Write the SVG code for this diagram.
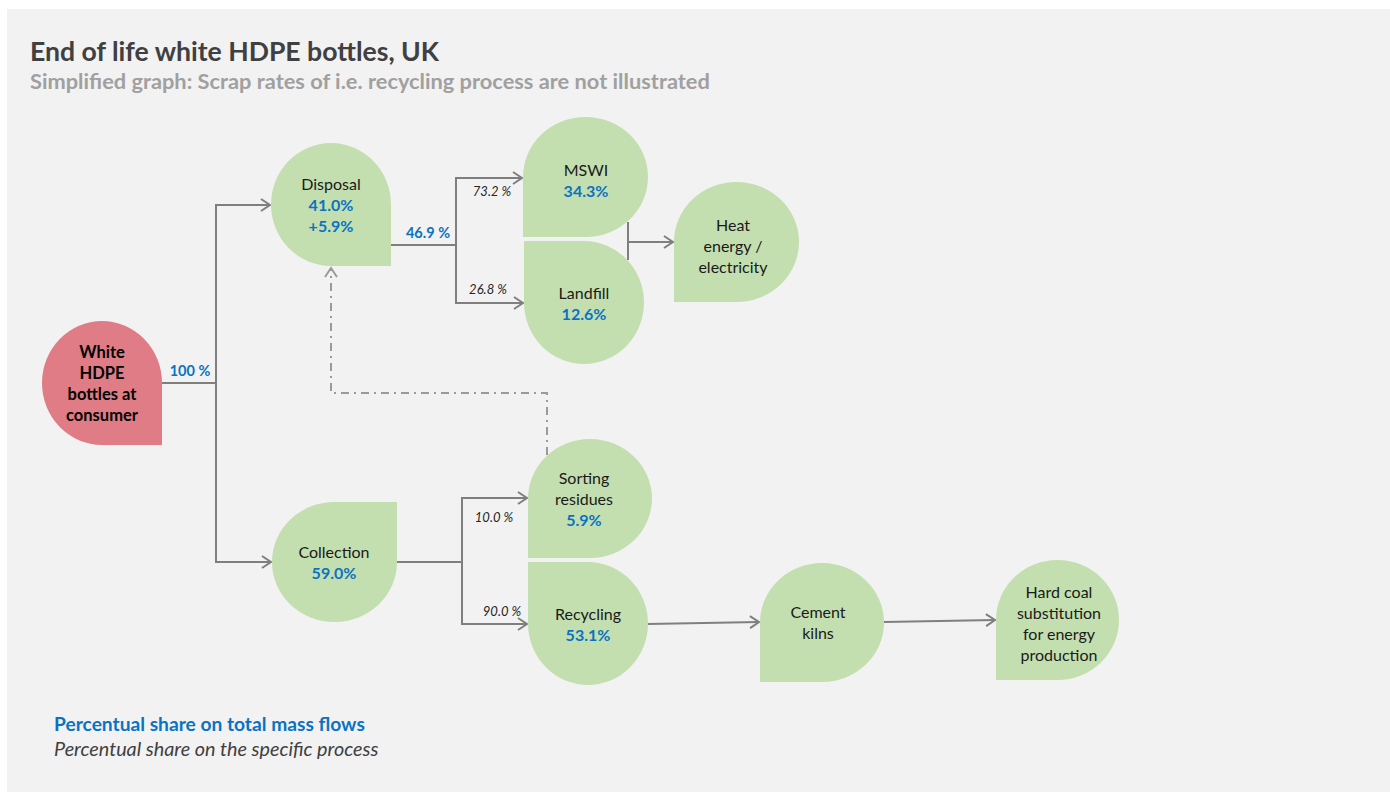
<svg xmlns="http://www.w3.org/2000/svg" width="1390" height="792" viewBox="0 0 1390 792">
<defs>
<style>
.bg{fill:#f2f2f2}
.g{fill:#c3dfaf}
.r{fill:#e07c86}
.t{font-family:Lato,"Open Sans",sans-serif;font-size:16px;fill:#1a1a1a;text-anchor:middle}
.tb{font-weight:bold;fill:#000;font-size:16.5px}
.v{font-family:Lato,"Open Sans",sans-serif;font-size:16px;font-weight:bold;fill:#0a72c4;text-anchor:middle}
.lb{font-family:Lato,"Open Sans",sans-serif;font-size:14.5px;font-weight:bold;fill:#0a72c4;text-anchor:middle}
.li{font-family:Lato,"Open Sans",sans-serif;font-size:13px;font-style:italic;fill:#262626;text-anchor:middle}
.c{fill:none;stroke:#7f7f7f;stroke-width:2}
.d{fill:none;stroke:#9a9a9a;stroke-width:2;stroke-dasharray:8 5 2 5}
</style>
<marker id="a" markerUnits="userSpaceOnUse" markerWidth="12" markerHeight="14" refX="10" refY="7" orient="auto">
<path d="M1,1 L10,7 L1,13" fill="none" stroke="#7f7f7f" stroke-width="2"/>
</marker>
<marker id="ad" markerUnits="userSpaceOnUse" markerWidth="12" markerHeight="14" refX="10" refY="7" orient="auto">
<path d="M1,1 L10,7 L1,13" fill="none" stroke="#9a9a9a" stroke-width="2"/>
</marker>
</defs>
<rect class="bg" x="7" y="9" width="1383" height="783"/>
<g id="title">
<text x="30" y="61" font-family="Lato,'Open Sans',sans-serif" font-size="26.6" font-weight="bold" fill="#404040">End of life white HDPE bottles, UK</text>
<text x="30" y="89" font-family="Lato,'Open Sans',sans-serif" font-size="21.8" font-weight="bold" fill="#a0a0a0">Simplified graph: Scrap rates of i.e. recycling process are not illustrated</text>
</g>
<g id="connectors">
<polyline class="c" points="162,383 216,383"/>
<polyline class="c" points="216,562 216,205 270,205" marker-end="url(#a)"/>
<polyline class="c" points="216,383 216,562 271,562" marker-end="url(#a)"/>
<polyline class="c" points="391,245 456,245"/>
<polyline class="c" points="456,245 456,178 522,178" marker-end="url(#a)"/>
<polyline class="c" points="456,245 456,303 523,303" marker-end="url(#a)"/>
<polyline class="c" points="628,222 628,260"/>
<polyline class="c" points="628,242 673,242" marker-end="url(#a)"/>
<polyline class="c" points="397,562 462,562"/>
<polyline class="c" points="462,562 462,498 527,498" marker-end="url(#a)"/>
<polyline class="c" points="462,562 462,624 527,624" marker-end="url(#a)"/>
<polyline class="c" points="648,624 759,622" marker-end="url(#a)"/>
<polyline class="c" points="884,622 995,620" marker-end="url(#a)"/>
<polyline class="d" points="547,455 547,393 331,393 331,268" marker-end="url(#ad)"/>
<text class="lb" x="190" y="376">100 %</text>
<text class="lb" x="428" y="238">46.9 %</text>
<text class="li" x="492" y="196">73.2 %</text>
<text class="li" x="488" y="294">26.8 %</text>
<text class="li" x="494" y="522">10.0 %</text>
<text class="li" x="502" y="616">90.0 %</text>
</g>
<g id="white-hdpe">
<path class="r" d="M102,321 A60,62 0 0 1 162,383 L162,445 L102,445 A60,62 0 0 1 42,383 A60,62 0 0 1 102,321 Z"/>
<text class="t tb" x="102" y="358">White</text>
<text class="t tb" x="102" y="379">HDPE</text>
<text class="t tb" x="102" y="400">bottles at</text>
<text class="t tb" x="102" y="421">consumer</text>
</g>
<g id="disposal">
<path class="g" d="M331,143 A60,61.5 0 0 1 391,204.5 L391,266 L331,266 A60,61.5 0 0 1 271,204.5 A60,61.5 0 0 1 331,143 Z"/>
<text class="t" x="331" y="190">Disposal</text>
<text class="v" x="331" y="211">41.0%</text>
<text class="v" x="331" y="232">+5.9%</text>
</g>
<g id="mswi">
<path class="g" d="M523,177 A62.5,60 0 0 1 585.5,117 A62.5,60 0 0 1 648,177 A62.5,60 0 0 1 585.5,237 L523,237 Z"/>
<text class="t" x="586" y="176">MSWI</text>
<text class="v" x="586" y="197">34.3%</text>
</g>
<g id="landfill">
<path class="g" d="M524,241 L584,241 A60,61.5 0 0 1 644,302.5 A60,61.5 0 0 1 584,364 A60,61.5 0 0 1 524,302.5 Z"/>
<text class="t" x="584" y="299">Landfill</text>
<text class="v" x="584" y="320">12.6%</text>
</g>
<g id="heat">
<path class="g" d="M674,242 A62.5,60 0 0 1 736.5,182 A62.5,60 0 0 1 799,242 A62.5,60 0 0 1 736.5,302 L674,302 Z"/>
<text class="t" x="733" y="231">Heat</text>
<text class="t" x="733" y="252">energy /</text>
<text class="t" x="733" y="273">electricity</text>
</g>
<g id="sorting">
<path class="g" d="M528,498.5 A62,59.5 0 0 1 590,439 A62,59.5 0 0 1 652,498.5 A62,59.5 0 0 1 590,558 L528,558 Z"/>
<text class="t" x="584" y="484">Sorting</text>
<text class="t" x="584" y="505">residues</text>
<text class="v" x="584" y="526">5.9%</text>
</g>
<g id="collection">
<path class="g" d="M272,562 A62.5,60 0 0 1 334.5,502 L397,502 L397,562 A62.5,60 0 0 1 334.5,622 A62.5,60 0 0 1 272,562 Z"/>
<text class="t" x="334" y="558">Collection</text>
<text class="v" x="334" y="579">59.0%</text>
</g>
<g id="recycling">
<path class="g" d="M528,562 L588,562 A60,61.5 0 0 1 648,623.5 A60,61.5 0 0 1 588,685 A60,61.5 0 0 1 528,623.5 Z"/>
<text class="t" x="588" y="620">Recycling</text>
<text class="v" x="588" y="641">53.1%</text>
</g>
<g id="cement">
<path class="g" d="M760,622.5 A62,59.5 0 0 1 822,563 A62,59.5 0 0 1 884,622.5 A62,59.5 0 0 1 822,682 L760,682 Z"/>
<text class="t" x="818" y="618">Cement</text>
<text class="t" x="818" y="639">kilns</text>
</g>
<g id="hardcoal">
<path class="g" d="M996,620 A61.5,60 0 0 1 1057.5,560 A61.5,60 0 0 1 1119,620 A61.5,60 0 0 1 1057.5,680 L996,680 Z"/>
<text class="t" x="1059" y="598">Hard coal</text>
<text class="t" x="1059" y="619">substitution</text>
<text class="t" x="1059" y="640">for energy</text>
<text class="t" x="1059" y="661">production</text>
</g>
<g id="legend">
<text x="54" y="731" font-family="Lato,'Open Sans',sans-serif" font-size="19.2" font-weight="bold" fill="#0a72c4">Percentual share on total mass flows</text>
<text x="54" y="756" font-family="Lato,'Open Sans',sans-serif" font-size="19.8" font-style="italic" fill="#404040">Percentual share on the specific process</text>
</g>
</svg>
